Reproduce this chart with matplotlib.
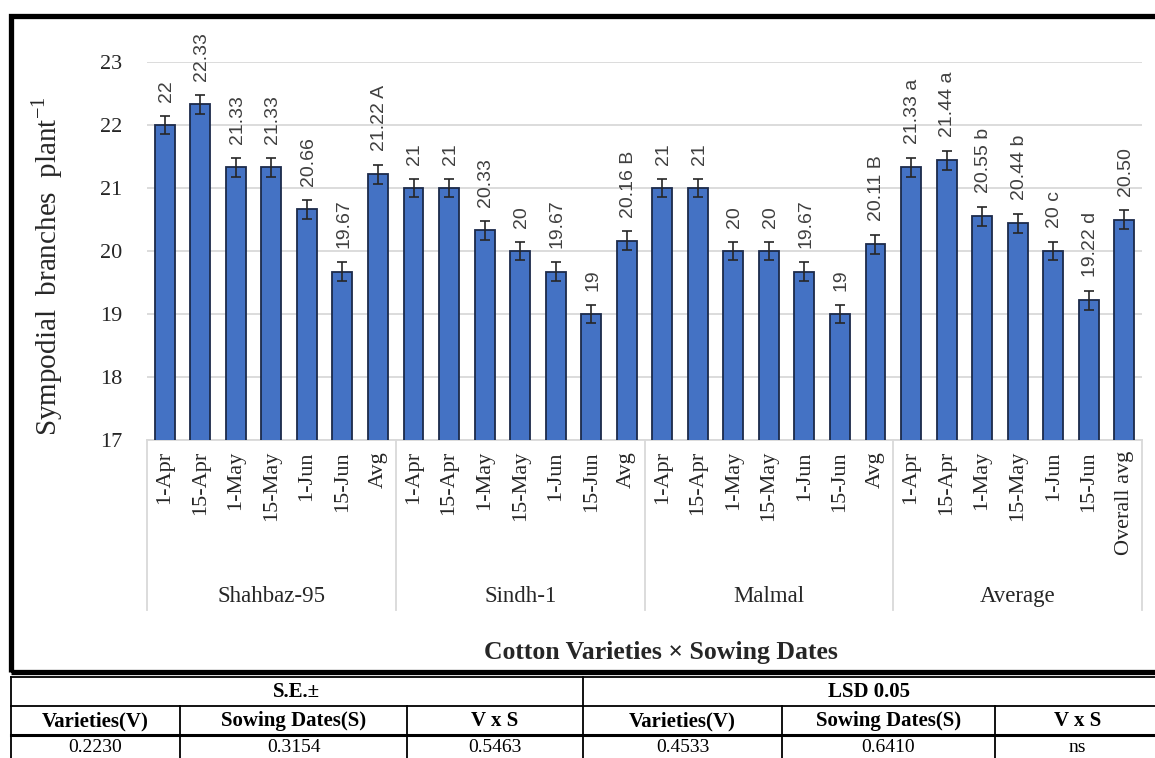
import matplotlib.pyplot as plt
from matplotlib.lines import Line2D
from matplotlib.patches import Rectangle
import matplotlib.transforms as mtransforms

# data
groups = ["Shahbaz-95", "Sindh-1", "Malmal", "Average"]
dates = ["1-Apr", "15-Apr", "1-May", "15-May", "1-Jun", "15-Jun"]

shahbaz = [22, 22.33, 21.33, 21.33, 20.66, 19.67, 21.22]
sindh = [21, 21, 20.33, 20, 19.67, 19, 20.16]
malmal = [21, 21, 20, 20, 19.67, 19, 20.11]
average = [21.33, 21.44, 20.55, 20.44, 20, 19.22, 20.50]

shahbaz_lbl = ["22", "22.33", "21.33", "21.33", "20.66", "19.67", "21.22 A"]
sindh_lbl = ["21", "21", "20.33", "20", "19.67", "19", "20.16 B"]
malmal_lbl = ["21", "21", "20", "20", "19.67", "19", "20.11 B"]
average_lbl = ["21.33 a", "21.44 a", "20.55 b", "20.44 b", "20 c", "19.22 d", "20.50"]

err = 0.15

se_header = ["Varieties(V)", "Sowing Dates(S)", "V x S"]
se_values = ["0.2230", "0.3154", "0.5463"]
lsd_header = ["Varieties(V)", "Sowing Dates(S)", "V x S"]
lsd_values = ["0.4533", "0.6410", "ns"]

values = shahbaz + sindh + malmal + average
labels = shahbaz_lbl + sindh_lbl + malmal_lbl + average_lbl
ticks = (dates + ["Avg"]) * 3 + dates + ["Overall avg"]
x = list(range(len(values)))

W, H = 1155, 758
fig = plt.figure(figsize=(W / 100, H / 100), dpi=100)
serif = "Liberation Serif"
sans = "Liberation Sans"

ax = fig.add_axes([147 / W, 1 - 440 / H, (1142 - 147) / W, (440 - 62) / H])
ax.bar(x, values, width=0.56, color="#4472C4", edgecolor="#1c2a4a", linewidth=1.3, zorder=3)
ax.errorbar(x, values, yerr=err, fmt="none", ecolor="#262626", elinewidth=1.2,
            capsize=3.5, capthick=1.2, zorder=4)

for xi, v, lab in zip(x, values, labels):
    ax.annotate(lab, (xi, v + err), xytext=(1, 10), textcoords="offset points",
                rotation=90, ha="center", va="bottom", fontsize=14,
                family=sans, color="#404040", annotation_clip=False)

ax.set_xlim(-0.5, len(values) - 0.5)
ax.set_ylim(17, 23)
ax.set_yticks(range(17, 24))
ax.yaxis.grid(True, color="#d9d9d9", linewidth=1.3, zorder=0)
ax.set_axisbelow(True)
for s in ["top", "right", "left"]:
    ax.spines[s].set_visible(False)
ax.spines["bottom"].set_color("#d9d9d9")
ax.spines["bottom"].set_linewidth(1.3)
ax.tick_params(axis="y", length=0, pad=18, labelsize=16, labelcolor="#262626")
ax.set_yticklabels([str(t) for t in range(17, 24)], family=serif)
ax.set_xticks(x)
ax.set_xticklabels(ticks, rotation=90, family=serif, fontsize=16, color="#262626")
ax.tick_params(axis="x", length=0, pad=8)

# group labels and separators under the axis
trans = mtransforms.blended_transform_factory(ax.transData, ax.transAxes)
for i, g in enumerate(groups):
    ax.text(i * 7 + 3, -0.415, g, transform=trans, ha="center", va="center",
            fontsize=16.5, family=serif, color="#262626")
for b in [-0.5, 6.5, 13.5, 20.5, 27.5]:
    ax.add_line(Line2D([b, b], [0, -0.45], transform=trans, color="#d9d9d9",
                       linewidth=1.3, clip_on=False))

fig.text(47 / W, 1 - 266 / H, "Sympodial  branches  plant$^{\\mathregular{-1}}$", rotation=90,
         ha="center", va="center", fontsize=21, family=serif, color="#262626")
fig.text(661 / W, 1 - 653 / H, "Cotton Varieties × Sowing Dates", ha="center", va="center",
         fontsize=18.5, family=serif, fontweight="bold", color="#262626")

# black frame around the chart
fig.add_artist(Rectangle((10.5 / W, 1 - 671.5 / H), (W + 20) / W, (671.5 - 15.5) / H,
                         transform=fig.transFigure, fill=False, edgecolor="black",
                         linewidth=3.8, clip_on=False))

# statistics table below the chart
def hline(y, x0, x1, lw=1.3):
    fig.add_artist(Line2D([x0 / W, x1 / W], [1 - y / H, 1 - y / H], color="black", linewidth=lw))

def vline(xp, y0, y1, lw=1.3):
    fig.add_artist(Line2D([xp / W, xp / W], [1 - y0 / H, 1 - y1 / H], color="black", linewidth=lw))

hline(677, 11, W + 5)
hline(706, 11, W + 5)
hline(735, 11, W + 5, lw=2.2)
vline(11, 677, H + 5)
vline(583, 677, H + 5)
for xp in [180, 407, 782, 995]:
    vline(xp, 706, H + 5)

fig.text(297 / W, 1 - 692 / H, "S.E.±", ha="center", va="center", fontsize=15,
         family=serif, fontweight="bold")
fig.text(869 / W, 1 - 692 / H, "LSD 0.05", ha="center", va="center", fontsize=15,
         family=serif, fontweight="bold")
cols = [11, 180, 407, 583, 782, 995, 1160]
heads = se_header + lsd_header
vals = se_values + lsd_values
for i in range(6):
    cx = (cols[i] + cols[i + 1]) / 2 / W
    fig.text(cx, 1 - 721 / H, heads[i], ha="center", va="center", fontsize=15,
             family=serif, fontweight="bold")
    fig.text(cx, 1 - 747 / H, vals[i], ha="center", va="center", fontsize=14,
             family=serif)

fig.savefig("out.png", dpi=100)
